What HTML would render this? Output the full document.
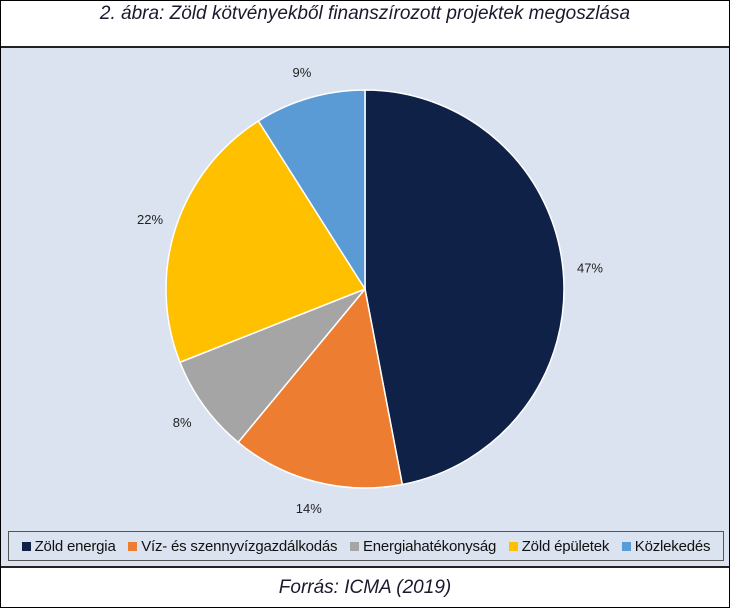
<!DOCTYPE html>
<html><head><meta charset="utf-8"><style>
body{margin:0;width:730px;height:608px;overflow:hidden;background:#fff;font-family:"Liberation Sans",sans-serif}
#frame{position:absolute;left:0;top:0;width:728px;height:606px;border:1px solid #000}
#title{position:absolute;left:0;top:3px;width:730px;text-align:center;font-style:italic;font-size:19px;color:#1a1a2e}
#plot{position:absolute;left:1px;top:46px;width:728px;height:518px;background:#dbe3f1;border-top:2px solid #222;border-bottom:2px solid #222}
#legend{position:absolute;left:8px;top:531px;width:716px;height:30px;border:1px solid #555;box-sizing:border-box;font-size:15px;color:#111;display:flex;align-items:center;justify-content:space-evenly;white-space:nowrap;letter-spacing:-0.2px}
.sw{display:inline-block;width:9px;height:9px;margin-right:4px}
#foot{position:absolute;left:0;top:577px;width:730px;text-align:center;font-style:italic;font-size:19px;color:#1a1a2e}
</style></head><body>
<div id="frame"></div>
<div id="title">2. ábra: Zöld kötvényekből finanszírozott projektek megoszlása</div>
<div id="plot"></div>
<svg id="pie" width="730" height="608" style="position:absolute;left:0;top:0"></svg>
<div id="legend"></div>
<div id="foot">Forrás: ICMA (2019)</div>
<script>
const categories=["Zöld energia","Víz- és szennyvízgazdálkodás","Energiahatékonyság","Zöld épületek","Közlekedés"];
const values=[47,14,8,22,9];
const colors=["#0f2147","#ed7d31","#a5a5a5","#ffc000","#5b9bd5"];
const cx=365,cy=289,R=199,LR=226;
const svg=document.getElementById('pie');const NS="http://www.w3.org/2000/svg";
const total=values.reduce((a,b)=>a+b,0);
let acc=0;
function pt(f,r){const a=f*2*Math.PI;return [cx+r*Math.sin(a),cy-r*Math.cos(a)];}
values.forEach((v,i)=>{
  const f0=acc/total,f1=(acc+v)/total;acc+=v;
  const p0=pt(f0,R),p1=pt(f1,R);
  const path=document.createElementNS(NS,'path');
  path.setAttribute('d',`M${cx},${cy}L${p0[0]},${p0[1]}A${R},${R} 0 ${(f1-f0)>0.5?1:0} 1 ${p1[0]},${p1[1]}Z`);
  path.setAttribute('fill',colors[i]);path.setAttribute('stroke','#fff');path.setAttribute('stroke-width','1.5');
  
  
  svg.appendChild(path);
  const lp=pt((f0+f1)/2,LR);
  const t=document.createElementNS(NS,'text');
  t.setAttribute('x',lp[0]);t.setAttribute('y',lp[1]+5);t.setAttribute('text-anchor','middle');
  t.setAttribute('font-size','13');t.setAttribute('fill','#222');t.setAttribute('font-family','Liberation Sans, sans-serif');
  t.textContent=v+'%';
  
  
  svg.appendChild(t);
});
const lg=document.getElementById('legend');
categories.forEach((c,i)=>{
  const s=document.createElement('span');
  
  
  s.innerHTML=`<span class="sw" style="background:${colors[i]}"></span>${c}`;
  lg.appendChild(s);
});
</script>
</body></html>
